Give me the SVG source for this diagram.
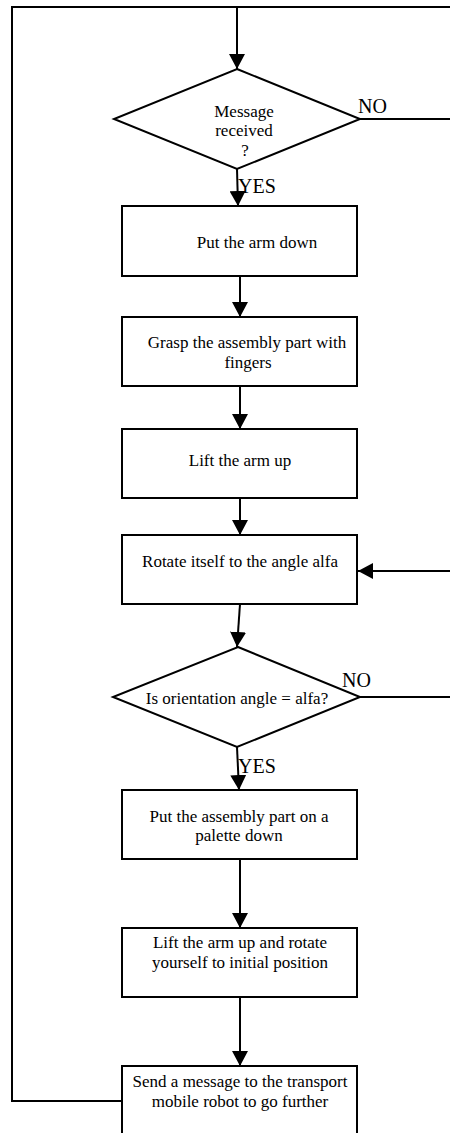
<svg xmlns="http://www.w3.org/2000/svg" width="450" height="1133" viewBox="0 0 450 1133">
<style>
.shape{fill:#fff;stroke:#000;stroke-width:2}
.ln{fill:none;stroke:#000;stroke-width:2}
.t{font-family:"Liberation Serif","Times New Roman",serif;font-size:17px;fill:#000;text-anchor:middle}
.lbl{font-family:"Liberation Serif","Times New Roman",serif;font-size:20px;fill:#000}
</style>
<defs>
<marker id="ah" viewBox="0 0 15 16" refX="15" refY="8" markerWidth="15" markerHeight="16" markerUnits="userSpaceOnUse" orient="auto">
<path d="M0,0 L15,8 L0,16 z" fill="#000"/>
</marker>
</defs>
<rect width="450" height="1133" fill="#fff"/>
<g id="connectors">
<path class="ln" d="M122,1101 L12,1101 L12,7 L450,7"/>
<path class="ln" d="M237,7 L237,69" marker-end="url(#ah)"/>
<path class="ln" d="M360,119 L450,119"/>
<path class="ln" d="M237,169 L238,206" marker-end="url(#ah)"/>
<path class="ln" d="M240,276 L240,317" marker-end="url(#ah)"/>
<path class="ln" d="M240,386 L240,429" marker-end="url(#ah)"/>
<path class="ln" d="M240,498 L240,535" marker-end="url(#ah)"/>
<path class="ln" d="M240,604 L237,647" marker-end="url(#ah)"/>
<path class="ln" d="M450,571 L358,571" marker-end="url(#ah)"/>
<path class="ln" d="M360,697 L450,697"/>
<path class="ln" d="M237,747 L239,790" marker-end="url(#ah)"/>
<path class="ln" d="M240,859 L240,928" marker-end="url(#ah)"/>
<path class="ln" d="M240,997 L240,1066" marker-end="url(#ah)"/>
<text class="lbl" x="358" y="113">NO</text>
<text class="lbl" x="238" y="193">YES</text>
<text class="lbl" x="342" y="687">NO</text>
<text class="lbl" x="238" y="773">YES</text>
</g>
<g id="d1">
<polygon class="shape" points="237,69 360,119 237,169 114,119"/>
<text class="t" x="244" y="117">Message</text>
<text class="t" x="244" y="136">received</text>
<text class="t" x="245" y="156">?</text>
</g>
<g id="b1">
<rect class="shape" x="122" y="206" width="235" height="70"/>
<text class="t" x="257" y="248">Put the arm down</text>
</g>
<g id="b2">
<rect class="shape" x="122" y="317" width="235" height="69"/>
<text class="t" x="247" y="348">Grasp the assembly part with</text>
<text class="t" x="248" y="368">fingers</text>
</g>
<g id="b3">
<rect class="shape" x="122" y="429" width="235" height="69"/>
<text class="t" x="240" y="466">Lift the arm up</text>
</g>
<g id="b4">
<rect class="shape" x="122" y="535" width="235" height="69"/>
<text class="t" x="240" y="567">Rotate itself to the angle alfa</text>
</g>
<g id="d2">
<polygon class="shape" points="238,647 360,697 237,747 113,697"/>
<text class="t" x="237" y="704">Is orientation angle = alfa?</text>
</g>
<g id="b5">
<rect class="shape" x="122" y="790" width="235" height="69"/>
<text class="t" x="239" y="822">Put the assembly part on a</text>
<text class="t" x="239" y="841">palette down</text>
</g>
<g id="b6">
<rect class="shape" x="122" y="928" width="235" height="69"/>
<text class="t" x="240" y="948">Lift the arm up and rotate</text>
<text class="t" x="240" y="968">yourself to initial position</text>
</g>
<g id="b7">
<rect class="shape" x="122" y="1066" width="235" height="80"/>
<text class="t" x="240" y="1087">Send a message to the transport</text>
<text class="t" x="240" y="1107">mobile robot to go further</text>
</g>
</svg>
